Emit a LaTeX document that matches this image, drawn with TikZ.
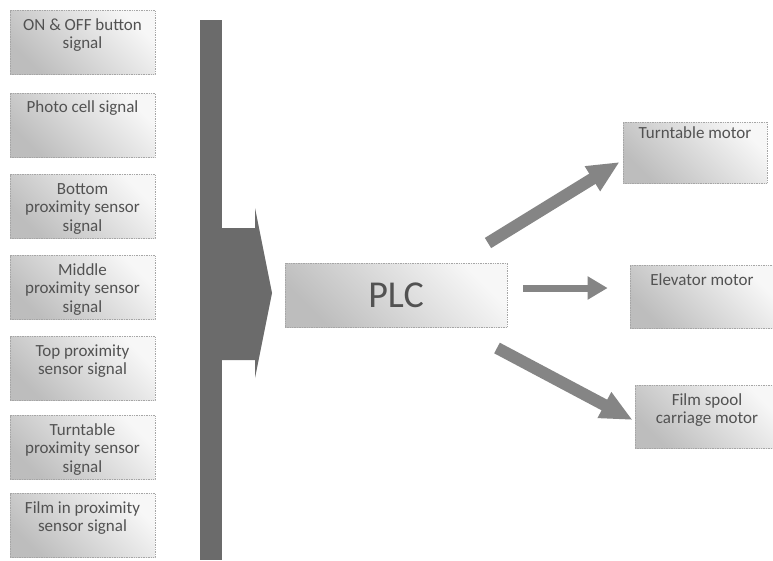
\documentclass[tikz,border=0pt]{standalone}
\usepackage{fontspec}
\setmainfont{Carlito}
\usetikzlibrary{arrows.meta}
\newcommand\mytop[2]{\parbox[c][#1][t]{140pt}{\centering\strut #2}}
\tikzset{
  boxbase/.style={draw=black!35, densely dotted, line width=0.7pt,
    shading=axis, top color=black!3, middle color=black!8, bottom color=black!26,
    shading angle=-45, inner sep=0pt, text=black!68},
  sigbox/.style={boxbase, minimum width=145pt, minimum height=64pt,
    font=\fontsize{17}{18.5}\selectfont},
  motbox/.style={boxbase, minimum width=144pt, minimum height=62pt,
    font=\fontsize{17}{18.5}\selectfont},
  plcbox/.style={boxbase, minimum width=222pt, minimum height=64pt,
    font=\fontsize{38}{40}\selectfont},
  flowarrow/.style={draw=black!48, line width=12pt,
    -{Triangle[width=27pt,length=32pt]}},
  busfill/.style={fill=black!58},
}
\begin{document}
\begin{tikzpicture}[x=1pt,y=-1pt]
\path[use as bounding box, clip] (0,0) rectangle (773,560);
\fill[white] (0,0) rectangle (773,560);

% input signal boxes
\node[sigbox] (s1) at (82.5,42.5)  {\mytop{50pt}{ON \& OFF button\\signal}};
\node[sigbox] (s2) at (82.5,125)   {\mytop{50pt}{Photo cell signal}};
\node[sigbox] (s3) at (82.5,206.5) {\mytop{50pt}{Bottom\\proximity sensor\\signal}};
\node[sigbox] (s4) at (82.5,287.5) {\mytop{50pt}{Middle\\proximity sensor\\signal}};
\node[sigbox] (s5) at (82.5,368.5) {\mytop{50pt}{Top proximity\\sensor signal}};
\node[sigbox] (s6) at (82.5,447.5) {\mytop{50pt}{Turntable\\proximity sensor\\signal}};
\node[sigbox] (s7) at (82.5,525.5) {\mytop{50pt}{Film in proximity\\sensor signal}};

% bus bar and block arrow
\fill[busfill] (200,20) rectangle (222,560);
\fill[busfill] (221,228) -- (255,228) -- (255,208) -- (272,293) -- (255,378)
  -- (255,360) -- (221,360) -- cycle;

% PLC
\node[plcbox] (plc) at (396,295) {PLC};

% motors
\node[motbox, minimum height=61pt] (m1) at (695,152.5) {\mytop{54pt}{Turntable motor}};
\node[motbox, minimum height=63pt] (m2) at (702,296.5) {\mytop{48pt}{Elevator motor}};
\node[motbox, minimum height=63pt] (m3) at (707,416.5) {\mytop{48pt}{Film spool\\carriage motor}};

% arrows
\coordinate (a1) at (488,243);
\coordinate (a2) at (523,288);
\coordinate (a3) at (497,348);
\draw[flowarrow] (a1) -- ([xshift=-3pt,yshift=-9.5pt]m1.west);
\draw[flowarrow, line width=7pt, -{Triangle[width=22pt,length=20pt]}]
  (a2) -- ([xshift=-22pt,yshift=8.5pt]m2.west);
\draw[flowarrow] (a3) -- ([xshift=-2pt,yshift=-3.5pt]m3.west);
\end{tikzpicture}
\end{document}
